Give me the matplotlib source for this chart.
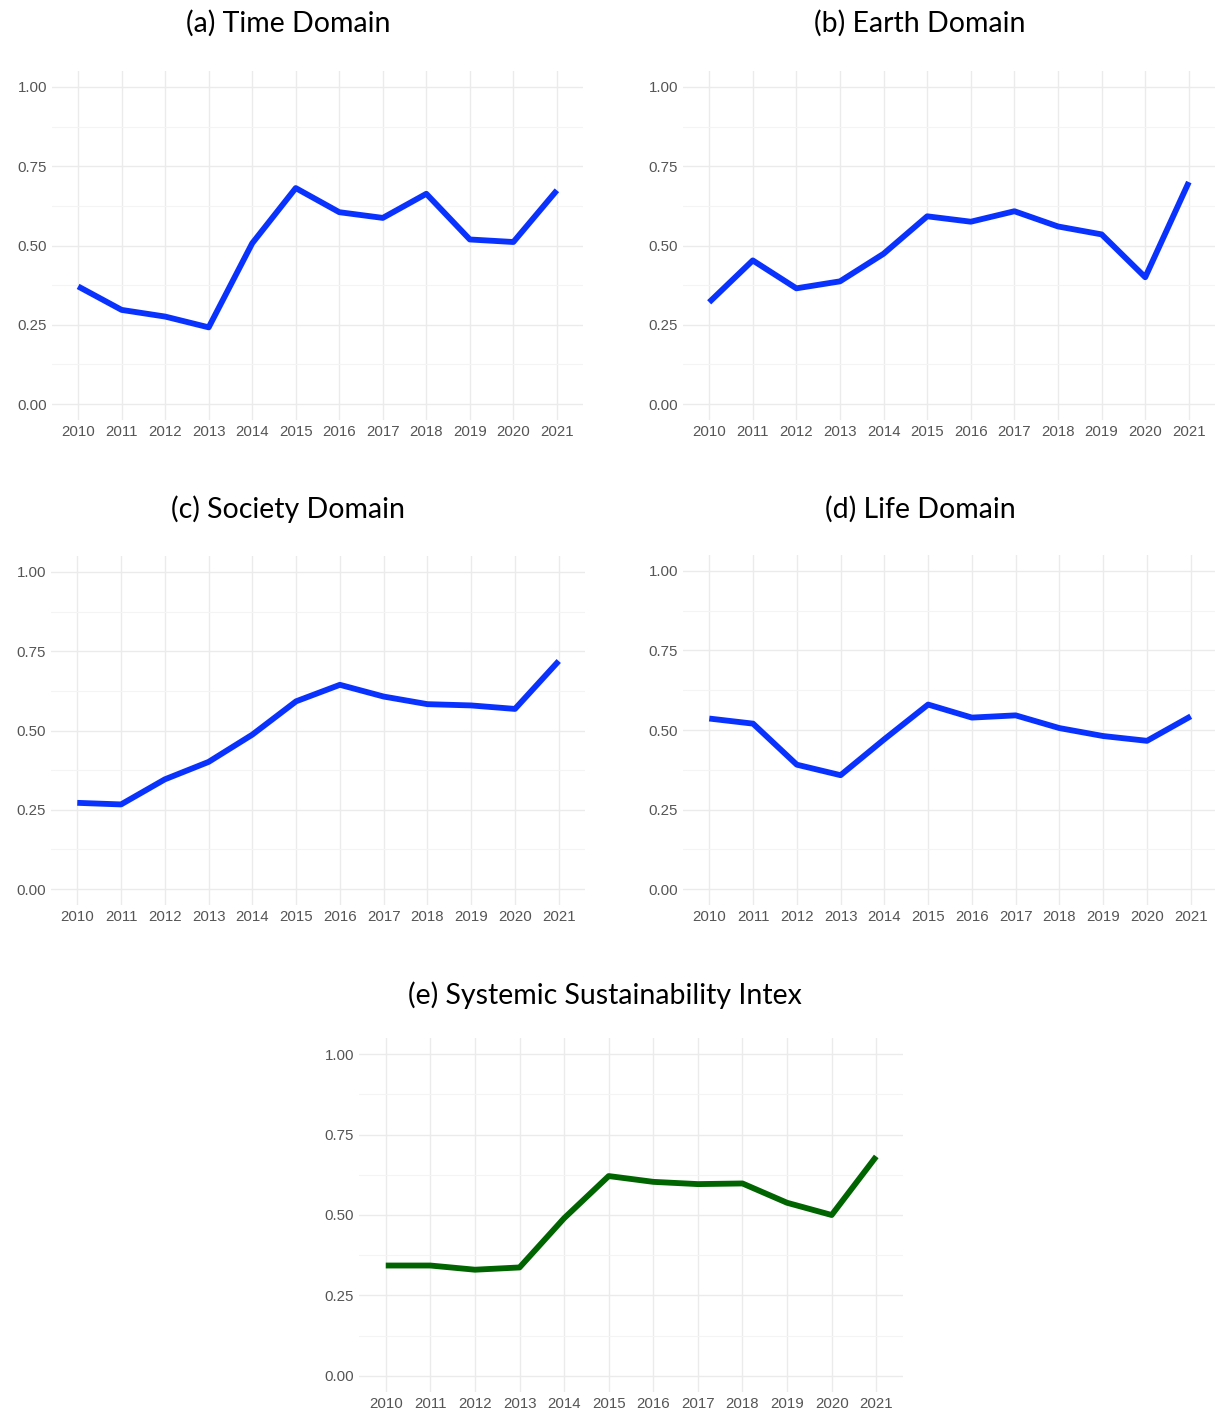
import numpy as np
import matplotlib.pyplot as plt
from matplotlib.ticker import MultipleLocator

plt.rcParams['font.family'] = ['Liberation Sans', 'DejaVu Sans']

years = [2010, 2011, 2012, 2013, 2014, 2015, 2016, 2017, 2018, 2019, 2020, 2021]

time_dom    = [0.371, 0.297, 0.276, 0.242, 0.507, 0.681, 0.605, 0.587, 0.663, 0.519, 0.511, 0.674]
earth_dom   = [0.321, 0.453, 0.365, 0.387, 0.474, 0.592, 0.575, 0.608, 0.560, 0.535, 0.400, 0.700]
society_dom = [0.272, 0.267, 0.346, 0.401, 0.487, 0.592, 0.644, 0.607, 0.583, 0.579, 0.568, 0.719]
life_dom    = [0.536, 0.520, 0.391, 0.358, 0.471, 0.580, 0.539, 0.546, 0.506, 0.481, 0.466, 0.543]
ssi         = [0.343, 0.343, 0.330, 0.337, 0.490, 0.621, 0.603, 0.596, 0.598, 0.538, 0.500, 0.682]

titles = ['(a) Time Domain', '(b) Earth Domain', '(c) Society Domain',
          '(d) Life Domain', '(e) Systemic Sustainability Intex']

W, H = 1215, 1411
fig = plt.figure(figsize=(W / 100, H / 100), dpi=100)

def px_axes(left, top, right, bottom):
    return fig.add_axes([left / W, 1 - bottom / H, (right - left) / W, (bottom - top) / H])

# panel boxes in pixels: left, top, right, bottom
boxes = [(52, 71, 583, 420),
         (683, 71, 1215, 420),
         (51, 556, 585, 905),
         (683, 555, 1217, 905),
         (359, 1038, 903, 1392)]
series = [time_dom, earth_dom, society_dom, life_dom, ssi]
colors = ['#0A32FF', '#0A32FF', '#0A32FF', '#0A32FF', '#006400']
title_pos = [(288, 23), (920, 23), (288, 509), (920, 509), (605, 995)]

for box, vals, col, title, tp in zip(boxes, series, colors, titles, title_pos):
    ax = px_axes(*box)
    ax.plot(years, vals, color=col, lw=4.2, solid_capstyle='butt', solid_joinstyle='round', zorder=3)
    ax.set_xlim(2010 - 0.6, 2021 + 0.6)
    ax.set_xticks(years)
    ax.set_xticklabels([str(y) for y in years])
    ax.yaxis.set_minor_locator(MultipleLocator(0.125))
    ax.set_yticks([0, 0.25, 0.5, 0.75, 1.0])
    ax.set_yticklabels(['0.00', '0.25', '0.50', '0.75', '1.00'])
    ax.set_ylim(-0.05, 1.05)
    ax.grid(True, which='major', color='#EBEBEB', lw=1.0)
    ax.grid(True, which='minor', axis='y', color='#F4F4F4', lw=0.8)
    ax.set_axisbelow(True)
    for s in ax.spines.values():
        s.set_visible(False)
    ax.tick_params(which='both', length=0, labelsize=10.8, labelcolor='#555555', pad=3.5)
    fig.text(tp[0] / W, 1 - tp[1] / H, title, ha='center', va='center',
             fontsize=20.5, family='Lato', color='black')

plt.savefig('out.png', dpi=100)
